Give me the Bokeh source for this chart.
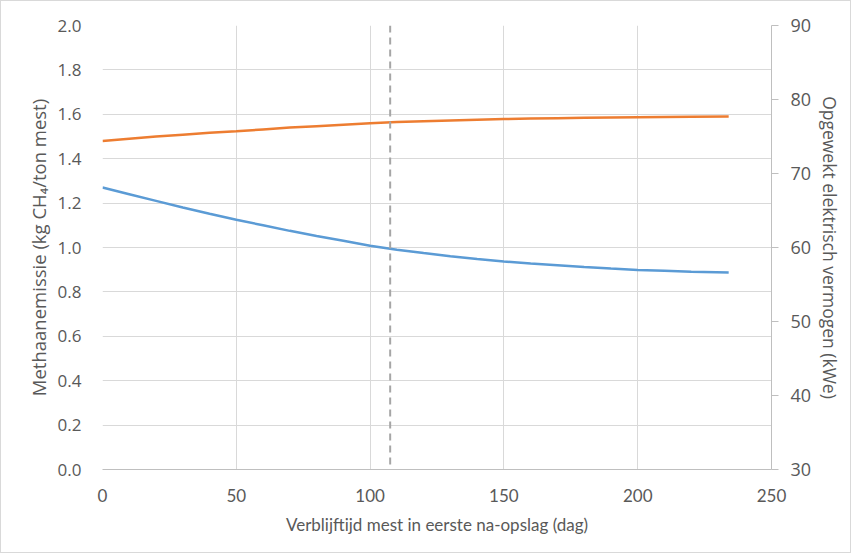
from bokeh.plotting import figure
from bokeh.models import LinearAxis, Range1d, FixedTicker, Span, CustomJSTickFormatter
from bokeh.embed import file_html
from bokeh.resources import INLINE

# Data
days = [0, 10, 20, 30, 40, 50, 60, 70, 80, 90, 100, 110, 120, 130, 140, 150,
        160, 170, 180, 190, 200, 210, 220, 234]
methane = [1.27, 1.24, 1.21, 1.18, 1.152, 1.125, 1.10, 1.075, 1.052, 1.03, 1.008,
           0.99, 0.975, 0.961, 0.948, 0.937, 0.928, 0.92, 0.912, 0.905, 0.899,
           0.895, 0.891, 0.887]
power = [74.4, 74.7, 75.0, 75.25, 75.5, 75.7, 75.95, 76.2, 76.4, 76.6, 76.8,
         76.95, 77.05, 77.15, 77.25, 77.35, 77.42, 77.48, 77.53, 77.57, 77.6,
         77.63, 77.66, 77.7]
marker_day = 107.5

x_ticks = [0, 50, 100, 150, 200, 250]
left_ticks = [0.0, 0.2, 0.4, 0.6, 0.8, 1.0, 1.2, 1.4, 1.6, 1.8, 2.0]
right_ticks = [30, 40, 50, 60, 70, 80, 90]

TXT = "#595959"
GRID = "#d9d9d9"
XFONT = "Lato"

p = figure(width=851, height=553, output_backend="svg", toolbar_location=None,
           x_range=Range1d(0, 250), y_range=Range1d(0, 2.0),
           min_border_left=101, min_border_right=81, min_border_top=24,
           min_border_bottom=85)
p.styles = {"border": "1px solid #d9d9d9"}
p.outline_line_color = None
p.background_fill_color = "white"
p.border_fill_color = "white"

p.extra_y_ranges = {"right": Range1d(30, 90)}

# Left axis
ax = p.yaxis[0]
ax.ticker = FixedTicker(ticks=left_ticks)
ax.formatter = CustomJSTickFormatter(code="return tick.toFixed(1);")
ax.axis_line_color = None
ax.major_tick_line_color = None
ax.minor_tick_line_color = None
ax.major_label_text_font = "Open Sans"
ax.major_label_text_font_size = "17px"
ax.major_label_text_color = TXT
ax.major_label_standoff = 15
ax.axis_label = "Methaanemissie (kg CH\u2084/ton mest)"
ax.axis_label_text_font = "Open Sans"
ax.axis_label_text_font_size = "18.5px"
ax.axis_label_text_font_style = "normal"
ax.axis_label_text_color = TXT
ax.axis_label_standoff = 4

# X axis
xa = p.xaxis[0]
xa.ticker = FixedTicker(ticks=x_ticks)
xa.axis_line_color = "#bfbfbf"
xa.major_tick_line_color = None
xa.minor_tick_line_color = None
xa.major_label_text_font = XFONT
xa.major_label_text_font_size = "17px"
xa.major_label_text_color = TXT
xa.major_label_standoff = 13
xa.axis_label = "Verblijftijd mest in eerste na-opslag (dag)"
xa.axis_label_text_font = XFONT
xa.axis_label_text_font_size = "17px"
xa.axis_label_text_font_style = "normal"
xa.axis_label_text_color = TXT
xa.axis_label_standoff = 9

# Right axis
ra = LinearAxis(y_range_name="right", ticker=FixedTicker(ticks=right_ticks))
ra.axis_line_color = "#bfbfbf"
ra.major_tick_line_color = "#bfbfbf"
ra.major_tick_out = 7
ra.major_tick_in = 0
ra.minor_tick_line_color = None
ra.major_label_text_font = "Open Sans"
ra.major_label_text_font_size = "18px"
ra.major_label_text_color = TXT
ra.major_label_standoff = 12
ra.axis_label = "Opgewekt elektrisch vermogen (kWe)"
ra.axis_label_text_font = "Open Sans"
ra.axis_label_text_font_size = "17.5px"
ra.axis_label_text_font_style = "normal"
ra.axis_label_text_color = TXT
ra.axis_label_standoff = 4
p.add_layout(ra, "right")

# Grid
p.xgrid.ticker = FixedTicker(ticks=x_ticks)
p.ygrid.ticker = FixedTicker(ticks=left_ticks)
p.xgrid.grid_line_color = GRID
p.ygrid.grid_line_color = GRID
p.xgrid.grid_line_width = 1
p.ygrid.grid_line_width = 1

# Marker line
p.add_layout(Span(location=marker_day, dimension="height", line_color="#a6a6a6",
                  line_width=2, line_dash="7 5"))

# Series
p.line(days, methane, line_color="#5B9BD5", line_width=2.5)
p.line(days, power, y_range_name="right", line_color="#ED7D31", line_width=2.5)

open("out.html", "w").write(file_html(p, INLINE))
